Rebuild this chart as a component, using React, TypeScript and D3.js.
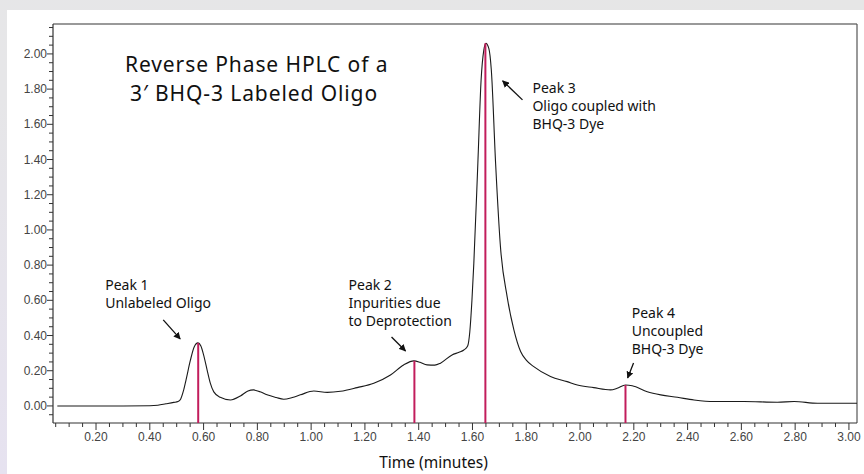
import React from "react";
import * as d3 from "d3";

// ---- data ----
const times = [0.056, 0.1, 0.2, 0.3, 0.4, 0.43, 0.46, 0.489, 0.505, 0.515, 0.525, 0.535, 0.551, 0.565, 0.579, 0.59, 0.6, 0.613, 0.625, 0.638, 0.662, 0.7, 0.737, 0.765, 0.786, 0.81, 0.836, 0.87, 0.898, 0.93, 0.96, 1.01, 1.06, 1.109, 1.171, 1.233, 1.295, 1.344, 1.382, 1.405, 1.431, 1.46, 1.481, 1.524, 1.55, 1.568, 1.582, 1.59, 1.598, 1.605, 1.62, 1.632, 1.642, 1.65, 1.661, 1.67, 1.686, 1.704, 1.729, 1.754, 1.779, 1.8, 1.828, 1.89, 1.952, 1.99, 2.051, 2.113, 2.138, 2.169, 2.194, 2.25, 2.3, 2.362, 2.424, 2.498, 2.61, 2.734, 2.796, 2.883, 3.03];
const absorbance = [0, 0, 0, 0, 0.001, 0.004, 0.012, 0.02, 0.025, 0.04, 0.085, 0.15, 0.26, 0.335, 0.358, 0.34, 0.29, 0.205, 0.13, 0.08, 0.049, 0.034, 0.057, 0.085, 0.091, 0.08, 0.063, 0.048, 0.038, 0.048, 0.063, 0.085, 0.077, 0.083, 0.104, 0.129, 0.176, 0.233, 0.256, 0.248, 0.233, 0.232, 0.243, 0.29, 0.305, 0.318, 0.34, 0.42, 0.6, 0.81, 1.379, 1.85, 2.02, 2.06, 2.03, 1.91, 1.379, 0.905, 0.62, 0.432, 0.309, 0.26, 0.223, 0.167, 0.138, 0.119, 0.104, 0.091, 0.1, 0.119, 0.115, 0.081, 0.063, 0.049, 0.034, 0.025, 0.025, 0.021, 0.025, 0.015, 0.015];

const peakTimes = [0.58, 1.384, 1.648, 2.169];
const peakHeights = [0.358, 0.256, 2.06, 0.119];

const peakLabels = [
  ["Peak 1", "Unlabeled Oligo"],
  ["Peak 2", "Inpurities due", "to Deprotection"],
  ["Peak 3", "Oligo coupled with", "BHQ-3 Dye"],
  ["Peak 4", "Uncoupled", "BHQ-3 Dye"],
];

const xMajorTicks = d3.range(1, 16).map((i) => i * 0.2);
const xMinorTicks = d3.range(1, 61).map((i) => i * 0.05).filter((v) => Math.abs(v / 0.2 - Math.round(v / 0.2)) > 1e-6);
const yMajorTicks = d3.range(0, 11).map((i) => i * 0.2);
const yMinorTicks = d3.range(-1, 44).map((i) => i * 0.05).filter((v) => Math.abs(v / 0.2 - Math.round(v / 0.2)) > 1e-6);

const titleLines = ["Reverse Phase HPLC of a", "3\u2032 BHQ-3 Labeled Oligo"];
const xAxisTitle = "Time (minutes)";

// ---- layout (data-unit anchors for annotations) ----
const labelAnchors = [
  { t: 0.234, v: 0.659 },
  { t: 1.139, v: 0.659 },
  { t: 1.823, v: 1.778 },
  { t: 2.192, v: 0.5 },
];
const arrows = [
  { t0: 0.45, v0: 0.489, t1: 0.513, v1: 0.381 },
  { t0: 1.299, v0: 0.392, t1: 1.351, v1: 0.3125 },
  { t0: 1.786, v0: 1.739, t1: 1.712, v1: 1.847 },
  { t0: 2.199, v0: 0.244, t1: 2.177, v1: 0.159 },
];
const titleX = [125, 130];
const titleY = [72, 101];

const W = 864;
const H = 474;
const L = 53, R = 857, T = 24, B = 423;

export default function App() {
  const x = d3.scaleLinear().domain([0.04, 3.03]).range([L, R]);
  const y = d3.scaleLinear().domain([-0.097, 2.17]).range([B, T]);

  const pts = times.map((t, i) => [t, absorbance[i]] as [number, number]);
  const line = d3
    .line<[number, number]>()
    .x((d) => x(d[0]))
    .y((d) => y(d[1]))
    .curve(d3.curveMonotoneX);

  const tickFont = "'Liberation Sans', Arial, sans-serif";
  const annFont = "'Noto Sans', sans-serif";

  return (
    <svg width={W} height={H} style={{ position: "fixed", left: 0, top: 0 }}>
      <defs>
        <linearGradient id="bg" x1="1" y1="0" x2="0" y2="1">
          <stop offset="0" stopColor="#e6e6e6" />
          <stop offset="0.6" stopColor="#e6e6e8" />
          <stop offset="1" stopColor="#e6e2f0" />
        </linearGradient>
        <marker id="ah" viewBox="0 0 10 10" refX="9" refY="5" markerWidth="7" markerHeight="7" orient="auto" markerUnits="userSpaceOnUse">
          <path d="M0,0 L10,5 L0,10 z" fill="#111" />
        </marker>
      </defs>
      <rect x={0} y={0} width={W} height={H} fill="url(#bg)" />
      <rect x={7} y={10} width={W - 7} height={H - 10} fill="#ffffff" />

      {/* frame */}
      <line x1={L} x2={R} y1={T} y2={T} stroke="#777" strokeWidth={1.4} />
      <line x1={R} x2={R} y1={T} y2={B} stroke="#555" strokeWidth={1.2} />
      <line x1={L} x2={L} y1={T} y2={B} stroke="#333" strokeWidth={1.2} />
      <line x1={L} x2={R} y1={B} y2={B} stroke="#333" strokeWidth={1.2} />

      {/* y ticks */}
      {yMinorTicks.map((v, i) => (
        <line key={"ym" + i} x1={L - 4} x2={L} y1={y(v)} y2={y(v)} stroke="#333" strokeWidth={1} />
      ))}
      {yMajorTicks.map((v, i) => (
        <g key={"yM" + i}>
          <line x1={L - 6} x2={L} y1={y(v)} y2={y(v)} stroke="#333" strokeWidth={1} />
          <text x={L - 6} y={y(v) + 4} textAnchor="end" fontFamily={tickFont} fontSize={12} fill="#444">
            {v.toFixed(2)}
          </text>
        </g>
      ))}

      {/* x ticks */}
      {xMinorTicks.map((v, i) => (
        <line key={"xm" + i} x1={x(v)} x2={x(v)} y1={B} y2={B + 4} stroke="#333" strokeWidth={1} />
      ))}
      {xMajorTicks.map((v, i) => (
        <g key={"xM" + i}>
          <line x1={x(v)} x2={x(v)} y1={B} y2={B + 7} stroke="#333" strokeWidth={1} />
          <text x={x(v)} y={B + 18} textAnchor="middle" fontFamily={tickFont} fontSize={12} fill="#444">
            {v.toFixed(2)}
          </text>
        </g>
      ))}
      <text x={433.5} y={468} textAnchor="middle" fontFamily={annFont} fontSize={15.5} fill="#111">
        {xAxisTitle}
      </text>

      {/* trace */}
      <path d={line(pts) || ""} fill="none" stroke="#1a1a1a" strokeWidth={1.1} />

      {/* peak markers */}
      {peakTimes.map((t, i) => (
        <line key={"pk" + i} x1={x(t)} x2={x(t)} y1={B} y2={y(peakHeights[i])} stroke="#c21d5c" strokeWidth={2} />
      ))}

      {/* title */}
      {titleLines.map((s, i) => (
        <text key={"tt" + i} x={titleX[i]} y={titleY[i]} fontFamily={annFont} fontSize={21} letterSpacing={0.9} fill="#111">
          {s}
        </text>
      ))}

      {/* annotations */}
      {peakLabels.map((lines, i) => (
        <text key={"an" + i} fontFamily={annFont} fontSize={14} fill="#111">
          {lines.map((s, j) => (
            <tspan key={j} x={x(labelAnchors[i].t)} y={y(labelAnchors[i].v) + j * 18}>
              {s}
            </tspan>
          ))}
        </text>
      ))}
      {arrows.map((a, i) => (
        <line key={"ar" + i} x1={x(a.t0)} y1={y(a.v0)} x2={x(a.t1)} y2={y(a.v1)} stroke="#111" strokeWidth={1.3} markerEnd="url(#ah)" />
      ))}
    </svg>
  );
}
